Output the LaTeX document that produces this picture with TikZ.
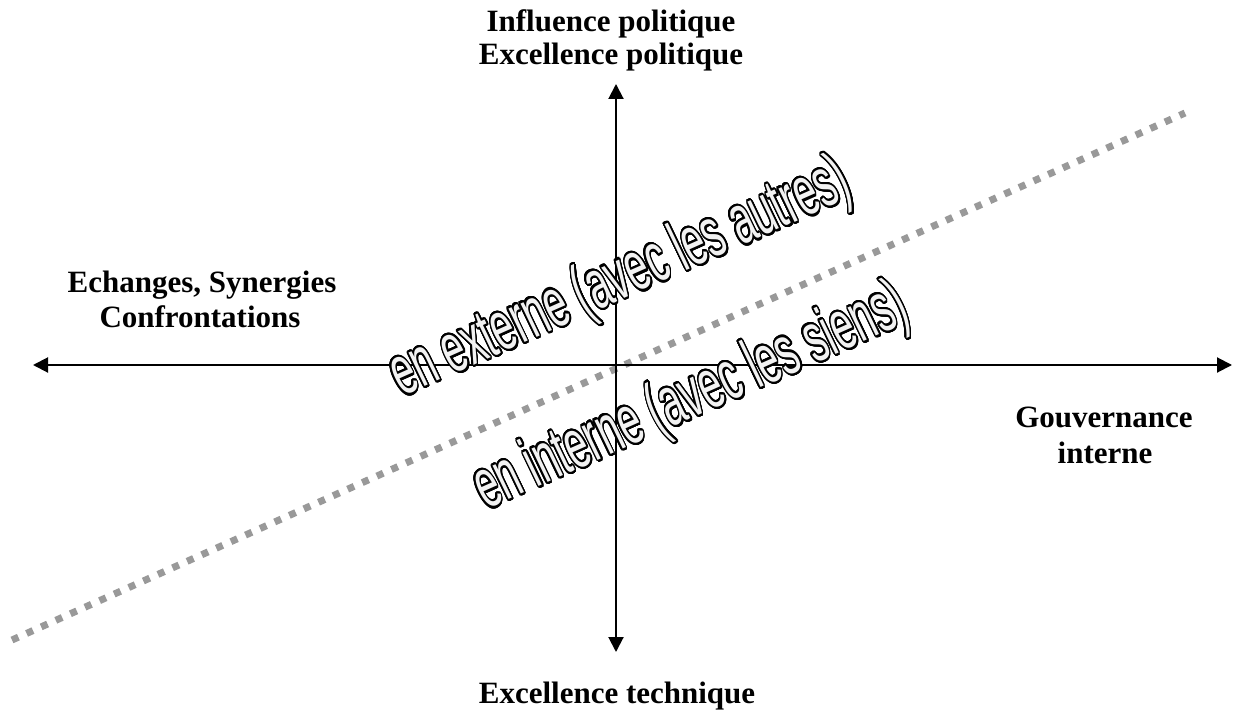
\documentclass[tikz,border=0pt]{standalone}
\usepackage{fontspec}
\setmainfont{Liberation Serif}
\newfontfamily\wafont{Liberation Sans}
\usepackage{contour}
\contourlength{1.3pt}
\contournumber{32}
\usetikzlibrary{arrows.meta}
\definecolor{dotgray}{HTML}{999999}
\definecolor{wafill}{HTML}{F2F2F2}
\begin{document}
\begin{tikzpicture}[x=1pt,y=1pt,
  axisline/.style={line width=2pt,{Triangle[length=15pt,width=15pt]}-{Triangle[length=15pt,width=15pt]}},
  dotline/.style={draw=dotgray,line width=7pt,dash pattern=on 7pt off 9pt},
  lbl/.style={font=\bfseries\fontsize{31}{34}\selectfont,inner sep=0pt,anchor=base},
  wa/.style={font=\wafont\fontsize{40}{44}\selectfont,text=wafill,inner sep=0pt,anchor=base west,transform shape}
]
\useasboundingbox (0,0) rectangle (1236,716);
% dotted diagonal
\coordinate (d1) at (12,76);
\coordinate (d2) at (1185,603);
\draw[dotline] (d1) -- (d2);
% axes
\coordinate (hl) at (33,351);
\coordinate (hr) at (1232,351);
\coordinate (vt) at (616,632);
\coordinate (vb) at (616,64);
\draw[axisline] (hl) -- (hr);
\draw[axisline] (vb) -- (vt);
% labels
\node[lbl] (top1) at (611,684) {Influence politique};
\node[lbl] (top2) at (611,651) {Excellence politique};
\node[lbl] (left1) at (202,424) {Echanges, Synergies};
\node[lbl] (left2) at (200,389) {Confrontations};
\node[lbl] (right1) at (1104,289) {Gouvernance};
\node[lbl] (right2) at (1105,253) {interne};
\node[lbl] (bot) at (617,13) {Excellence technique};
% outlined slanted texts
\begin{scope}[shift={(402,319)},rotate=24,yscale=1.75,xslant=-0.05]
\node[wa] (ext) at (0,0) {\contour{black}{en externe (avec les autres)}};
\end{scope}
\begin{scope}[shift={(486,206)},rotate=24,yscale=1.75,xslant=-0.05]
\node[wa] (int) at (0,0) {\contour{black}{en interne (avec les siens)}};
\end{scope}
\end{tikzpicture}
\end{document}
